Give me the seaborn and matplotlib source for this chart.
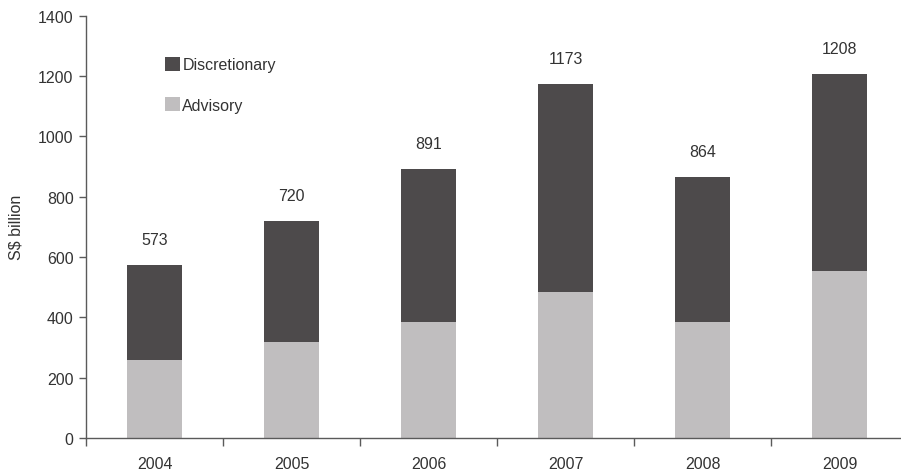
import matplotlib
matplotlib.use("Agg")
import matplotlib.pyplot as plt
from matplotlib.patches import Patch
import numpy as np
import pandas as pd
import seaborn as sns

years = ["2004", "2005", "2006", "2007", "2008", "2009"]
advisory = [260, 319, 386, 485, 386, 555]
discretionary = [313, 401, 505, 688, 478, 653]
totals = [573, 720, 891, 1173, 864, 1208]

dark = "#4d4a4b"
light = "#c0bebf"
text_color = "#333333"
axis_color = "#5a5a5a"
fs = 11.5

sns.set_theme(style="white")
plt.rcParams["font.family"] = ["Liberation Sans", "DejaVu Sans"]

df = pd.DataFrame({"year": years, "advisory": advisory,
                   "discretionary": discretionary, "total": totals})

fig = plt.figure(figsize=(9.01, 4.77), dpi=100)
ax = fig.add_axes([86 / 901, 1 - 439 / 477, 822 / 901, (439 - 16.7) / 477])

# stacked bars: full total in dark, advisory portion overlaid in light
sns.barplot(data=df, x="year", y="total", color=dark, width=0.4,
            saturation=1, ax=ax, linewidth=0)
sns.barplot(data=df, x="year", y="advisory", color=light, width=0.4,
            saturation=1, ax=ax, linewidth=0)

for i, t in enumerate(df["total"]):
    ax.annotate(f"{t}", (i, t), xytext=(0, 13), textcoords="offset points",
                ha="center", va="bottom", fontsize=fs, color=text_color)

ax.set_xlim(-0.5, 5.5)
ax.set_ylim(0, 1400)
ax.set_yticks(np.arange(0, 1401, 200))
ax.set_xlabel("")
ax.set_ylabel("S$ billion", fontsize=fs, color=text_color, labelpad=10)

for side in ("top", "right"):
    ax.spines[side].set_visible(False)
for side in ("left", "bottom"):
    ax.spines[side].set_color(axis_color)
    ax.spines[side].set_linewidth(1.0)

ax.tick_params(axis="y", which="major", direction="out", length=5, width=1,
               color=axis_color, labelsize=fs, labelcolor=text_color, pad=4, left=True)
ax.tick_params(axis="x", which="major", length=0, labelsize=fs,
               labelcolor=text_color, pad=13)
ax.set_xticks(np.arange(-0.5, 5.6, 1), minor=True)
ax.tick_params(axis="x", which="minor", direction="out", length=6, width=1,
               color=axis_color, bottom=True)

handles = [Patch(facecolor=dark, edgecolor="none", label="Discretionary"),
           Patch(facecolor=light, edgecolor="none", label="Advisory")]
leg = ax.legend(handles=handles, loc="upper left", bbox_to_anchor=(0.088, 0.918),
                frameon=False, fontsize=fs, handlelength=0.95, handleheight=1.0,
                handletextpad=0.15, labelspacing=1.55, borderaxespad=0)
for txt in leg.get_texts():
    txt.set_color(text_color)

fig.savefig("out.png", dpi=100)
